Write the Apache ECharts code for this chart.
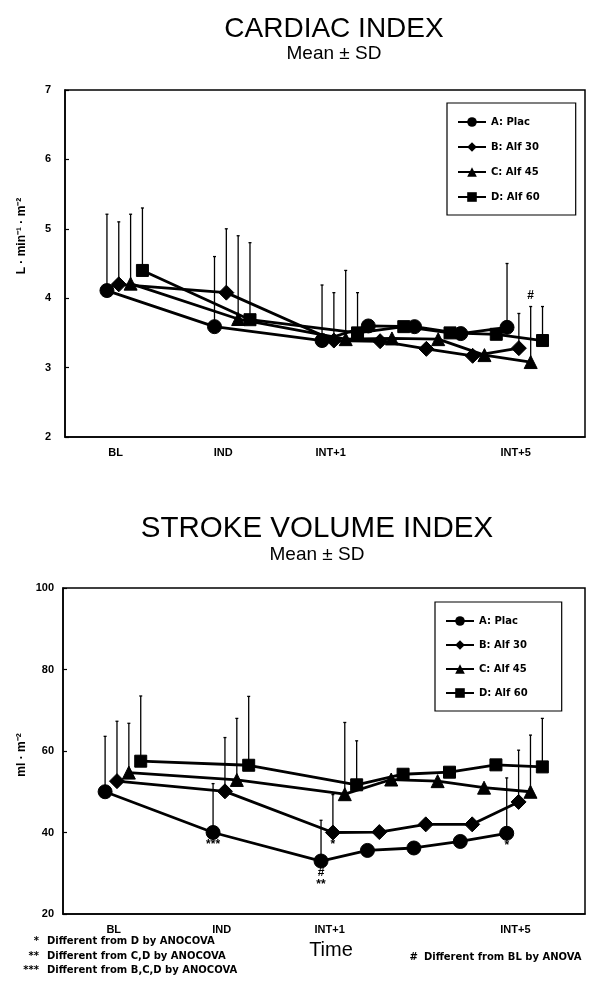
<!DOCTYPE html>
<html><head><meta charset="utf-8">
<script src="https://cdn.jsdelivr.net/npm/echarts@6/dist/echarts.min.js"></script>
<style>html,body{margin:0;padding:0;background:#fff}#c{width:611px;height:986px}</style>
</head><body><div id="c"></div>
<script>
// ---- data ----
const timeLabels = ['BL', 'IND', 'INT+1', '', '', '', 'INT+5'];
const timePos = [0, 1, 2, 2.43, 2.86, 3.29, 3.72];
const groupNames = ['A: Plac', 'B: Alf 30', 'C: Alf 45', 'D: Alf 60'];
const groupOffset = [-0.08, 0.03, 0.14, 0.25];

// Cardiac index (L·min-1·m-2), mean
const ciA = [4.11, 3.59, 3.39, 3.60, 3.59, 3.49, 3.58];
const ciB = [4.20, 4.08, 3.39, 3.38, 3.27, 3.17, 3.28];
const ciC = [4.21, 3.70, 3.41, 3.42, 3.41, 3.18, 3.08];
const ciD = [4.40, 3.69, 3.50, 3.59, 3.50, 3.48, 3.39];
// Cardiac index, mean + SD
const ciUpA = [5.21, 4.60, 4.19, null, null, null, 4.50];
const ciUpB = [5.10, 5.00, 4.08, null, null, null, 3.78];
const ciUpC = [5.21, 4.90, 4.40, null, null, null, 3.88];
const ciUpD = [5.30, 4.80, 4.08, null, null, null, 3.88];

// Stroke volume index (ml·m-2), mean
const svA = [50.0, 40.0, 33.0, 35.6, 36.2, 37.8, 39.8];
const svB = [52.6, 50.1, 40.0, 40.1, 42.0, 42.0, 47.5];
const svC = [54.7, 52.9, 49.4, 53.0, 52.6, 51.0, 50.0];
const svD = [57.5, 56.5, 51.7, 54.3, 54.8, 56.6, 56.1];
// Stroke volume index, mean + SD
const svUpA = [63.6, 52.0, 43.0, null, null, null, 53.4];
const svUpB = [67.3, 63.3, 49.3, null, null, null, 60.2];
const svUpC = [66.8, 68.0, 67.0, null, null, null, 63.9];
const svUpD = [73.5, 73.4, 62.5, null, null, null, 68.0];

// significance marks: [group, time index, text]
const ciMarks = [[2, 6, '#']];
const svMarks = [[0, 1, '***'], [1, 2, '*'], [0, 2, '#\n**'], [0, 6, '*']];

const ciTicks = [2, 3, 4, 5, 6, 7];
const svTicks = [20, 40, 60, 80, 100];

// ---- styles ----
const FONT = 'Liberation Sans, Arial, Helvetica, sans-serif';
const WFONT = 'DejaVu Sans, Verdana, sans-serif';
const symbols = ['circle', 'diamond', 'triangle', 'rect'];
const symSizes = [14, 15, 13, 12];
const labeled = timePos.filter((p, i) => timeLabels[i] !== '');

const chart = echarts.init(document.getElementById('c'), null, {renderer: 'canvas'});

function lineSeries(vals, g, gi) {
  return {
    type: 'line', name: groupNames[g], xAxisIndex: gi, yAxisIndex: gi,
    data: vals.map((v, i) => [timePos[i] + groupOffset[g], v]),
    symbol: symbols[g], symbolSize: symSizes[g], showSymbol: true,
    lineStyle: {color: '#000', width: 2.8},
    itemStyle: {color: '#000', borderColor: '#000'},
    z: 5, animation: false
  };
}
function errSeries(ups, means, g, gi) {
  const d = [];
  ups.forEach((u, i) => { if (u != null) d.push([timePos[i] + groupOffset[g], means[i], u]); });
  return {
    type: 'custom', xAxisIndex: gi, yAxisIndex: gi, data: d, z: 3, silent: true, animation: false,
    renderItem: function (params, api) {
      const p0 = api.coord([api.value(0), api.value(1)]);
      const p1 = api.coord([api.value(0), api.value(2)]);
      return {type: 'group', children: [
        {type: 'line', shape: {x1: p0[0], y1: p0[1], x2: p1[0], y2: p1[1]}, style: {stroke: '#000', lineWidth: 1.3}},
        {type: 'line', shape: {x1: p1[0] - 1.5, y1: p1[1], x2: p1[0] + 1.5, y2: p1[1]}, style: {stroke: '#000', lineWidth: 1.3}}
      ]};
    }
  };
}
function markSeries(marks, means, ups, gi, above) {
  const d = marks.map(m => {
    const g = m[0], t = m[1];
    const y = above ? ups[g][t] : means[g][t];
    return [timePos[t] + groupOffset[g], y, m[2]];
  });
  return {
    type: 'custom', xAxisIndex: gi, yAxisIndex: gi, data: d, z: 6, silent: true, animation: false,
    renderItem: function (params, api) {
      const p = api.coord([api.value(0), api.value(1)]);
      const txt = d[params.dataIndex][2];
      return {type: 'text', x: p[0], y: above ? p[1] - 5 : p[1] + 6,
        style: {text: txt, fill: '#000', font: 'bold 12px ' + FONT, align: 'center',
          verticalAlign: above ? 'bottom' : 'top', lineHeight: 12}};
    }
  };
}

function xAxisCfg(gi) {
  return {
    type: 'value', gridIndex: gi, min: -0.47, max: 4.365,
    axisLine: {show: true, onZero: false, lineStyle: {color: '#000', width: 1.5}},
    axisTick: {show: false}, splitLine: {show: false},
    axisLabel: {customValues: labeled, color: '#000', fontSize: 11, fontWeight: 'bold', fontFamily: FONT, margin: 10,
      formatter: v => { const i = timePos.findIndex(p => Math.abs(p - v) < 1e-6); return i >= 0 ? timeLabels[i] : ''; }}
  };
}
function yAxisCfg(gi, ticks, margin) {
  return {
    type: 'value', gridIndex: gi, min: ticks[0], max: ticks[ticks.length - 1], interval: ticks[1] - ticks[0],
    axisLine: {show: true, onZero: false, lineStyle: {color: '#000', width: 1.5}},
    axisTick: {show: true, inside: true, length: 4, lineStyle: {color: '#000', width: 1.2}},
    splitLine: {show: false},
    axisLabel: {color: '#000', fontSize: 11, fontWeight: 'bold', fontFamily: FONT, margin: margin}
  };
}
function legendCfg(left, top, gap, padR) {
  return {
    show: true, orient: 'vertical', left: left, top: top, data: groupNames,
    backgroundColor: '#fff', borderColor: '#000', borderWidth: 1.2,
    padding: [14, padR, 13, 10], itemGap: gap, itemWidth: 28, itemHeight: 12,
    textStyle: {color: '#000', fontSize: 10, fontWeight: 'bold', fontFamily: WFONT},
    selectedMode: false
  };
}

const ciMeans = [ciA, ciB, ciC, ciD], ciUps = [ciUpA, ciUpB, ciUpC, ciUpD];
const svMeans = [svA, svB, svC, svD], svUps = [svUpA, svUpB, svUpC, svUpD];

const series = [];
[0, 1, 2, 3].forEach(g => series.push(errSeries(ciUps[g], ciMeans[g], g, 0)));
[0, 1, 2, 3].forEach(g => series.push(lineSeries(ciMeans[g], g, 0)));
[0, 1, 2, 3].forEach(g => series.push(errSeries(svUps[g], svMeans[g], g, 1)));
[0, 1, 2, 3].forEach(g => series.push(lineSeries(svMeans[g], g, 1)));
series.push(markSeries(ciMarks, ciMeans, ciUps, 0, true));
series.push(markSeries(svMarks, svMeans, svUps, 1, false));

const footStyle = {fill: '#000', font: 'bold 10px ' + WFONT, verticalAlign: 'middle'};
function foot(text, x, y, align) {
  return {type: 'text', x: x, y: y, style: Object.assign({text: text, align: align || 'left'}, footStyle)};
}
chart.setOption({
  animation: false,
  backgroundColor: '#fff',
  title: [
    {text: 'CARDIAC INDEX', subtext: 'Mean ± SD', left: 329, textAlign: 'center', top: 10, itemGap: 1,
      textStyle: {fontSize: 28, fontWeight: 'normal', color: '#000', fontFamily: FONT},
      subtextStyle: {fontSize: 19, color: '#000', fontFamily: FONT}},
    {text: 'STROKE VOLUME INDEX', subtext: 'Mean ± SD', left: 312, textAlign: 'center', top: 509, itemGap: 1,
      textStyle: {fontSize: 29.5, fontWeight: 'normal', color: '#000', fontFamily: FONT},
      subtextStyle: {fontSize: 19, color: '#000', fontFamily: FONT}}
  ],
  grid: [
    {left: 65, right: 26, top: 90, bottom: 549, show: true, borderColor: '#000', borderWidth: 1.5, containLabel: false},
    {left: 63, right: 26, top: 588, bottom: 72, show: true, borderColor: '#000', borderWidth: 1.5, containLabel: false}
  ],
  xAxis: [xAxisCfg(0), xAxisCfg(1)],
  yAxis: [yAxisCfg(0, ciTicks, 14), yAxisCfg(1, svTicks, 9)],
  legend: [legendCfg(447, 103, 15, 36), legendCfg(435, 602, 14, 34)],
  series: series,
  graphic: [
    {type: 'text', x: 22, y: 236, rotation: Math.PI / 2,
      style: {text: 'L · min⁻¹ · m⁻²', fill: '#000', font: 'bold 12px ' + FONT, align: 'center', verticalAlign: 'middle'}},
    {type: 'text', x: 22, y: 755, rotation: Math.PI / 2,
      style: {text: 'ml · m⁻²', fill: '#000', font: 'bold 12px ' + FONT, align: 'center', verticalAlign: 'middle'}},
    {type: 'text', x: 331, y: 950,
      style: {text: 'Time', fill: '#000', font: '20px ' + FONT, align: 'center', verticalAlign: 'middle'}},
    foot('*', 39, 941, 'right'),
    foot('Different from D by ANOCOVA', 47, 941),
    foot('**', 39, 956, 'right'),
    foot('Different from C,D by ANOCOVA', 47, 956),
    foot('***', 39, 970, 'right'),
    foot('Different from B,C,D by ANOCOVA', 47, 970),
    foot('#', 418, 957, 'right'),
    foot('Different from BL by ANOVA', 424, 957)
  ]
});
</script></body></html>
